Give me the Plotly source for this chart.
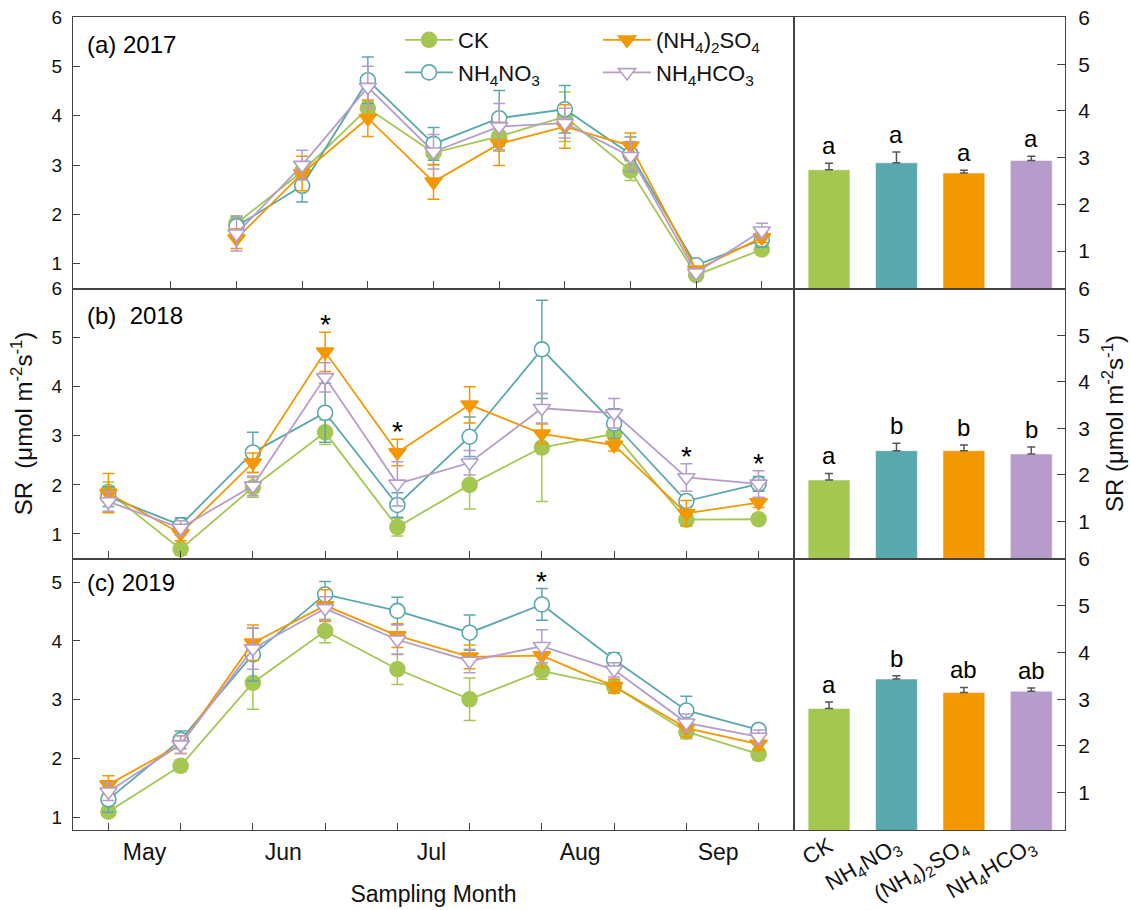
import plotly.graph_objects as go

# ---------------- data ----------------
treatments = ["CK", "NH<sub>4</sub>NO<sub>3</sub>", "(NH<sub>4</sub>)<sub>2</sub>SO<sub>4</sub>", "NH<sub>4</sub>HCO<sub>3</sub>"]
colors = ["#A4C752", "#5BA8AC", "#F39800", "#B69CCB"]
symbols = ["circle", "circle", "triangle-down", "triangle-down"]
fills = ["#A4C752", "white", "#F39800", "white"]

month_labels = ["May", "Jun", "Jul", "Aug", "Sep"]
month_pos = [0.5, 2.42, 4.47, 6.53, 8.44]
sample_ticks = list(range(10))

x_2017 = [1, 2, 3, 4, 5, 6, 7, 8, 9]
ck_2017 = [1.82, 2.87, 4.15, 3.25, 3.58, 3.98, 2.89, 0.77, 1.29]
no3_2017 = [1.76, 2.58, 4.72, 3.43, 3.95, 4.13, 3.22, 0.97, 1.49]
so4_2017 = [1.51, 2.83, 3.95, 2.66, 3.43, 3.78, 3.39, 0.88, 1.53]
hco3_2017 = [1.61, 3.00, 4.58, 3.27, 3.78, 3.85, 3.18, 0.82, 1.67]
ck_2017_se = [0.15, 0.20, 0.15, 0.25, 0.30, 0.50, 0.20, 0.06, 0.06]
no3_2017_se = [0.20, 0.33, 0.47, 0.33, 0.56, 0.48, 0.35, 0.06, 0.15]
so4_2017_se = [0.20, 0.35, 0.37, 0.35, 0.44, 0.44, 0.26, 0.06, 0.10]
hco3_2017_se = [0.35, 0.30, 0.42, 0.35, 0.47, 0.30, 0.30, 0.08, 0.15]

x_2018 = list(range(10))
ck_2018 = [1.86, 0.69, 1.95, 3.07, 1.14, 2.00, 2.76, 3.04, 1.29, 1.30]
no3_2018 = [1.76, 1.18, 2.66, 3.47, 1.59, 2.98, 4.76, 3.25, 1.67, 2.02]
so4_2018 = [1.83, 1.01, 2.45, 4.71, 2.66, 3.63, 3.04, 2.81, 1.42, 1.64]
hco3_2018 = [1.66, 1.12, 1.98, 4.19, 2.02, 2.45, 3.56, 3.46, 2.15, 2.02]
ck_2018_se = [0.20, 0.12, 0.20, 0.25, 0.18, 0.49, 1.10, 0.20, 0.12, 0.10]
no3_2018_se = [0.20, 0.15, 0.41, 0.60, 0.25, 0.40, 1.00, 0.30, 0.12, 0.15]
so4_2018_se = [0.40, 0.15, 0.20, 0.40, 0.27, 0.37, 0.20, 0.12, 0.26, 0.10]
hco3_2018_se = [0.20, 0.15, 0.20, 0.30, 0.45, 0.25, 0.30, 0.30, 0.28, 0.27]

x_2019 = list(range(10))
ck_2019 = [1.10, 1.88, 3.29, 4.17, 3.52, 3.01, 3.49, 3.23, 2.46, 2.08]
no3_2019 = [1.31, 2.32, 3.77, 4.79, 4.51, 4.14, 4.62, 3.68, 2.82, 2.49]
so4_2019 = [1.56, 2.24, 3.97, 4.60, 4.09, 3.73, 3.75, 3.23, 2.52, 2.25]
hco3_2019 = [1.44, 2.24, 3.87, 4.55, 4.02, 3.66, 3.91, 3.51, 2.61, 2.37]
ck_2019_se = [0.08, 0.10, 0.45, 0.20, 0.26, 0.36, 0.14, 0.10, 0.12, 0.10]
no3_2019_se = [0.22, 0.15, 0.45, 0.22, 0.23, 0.30, 0.27, 0.12, 0.24, 0.08]
so4_2019_se = [0.15, 0.15, 0.30, 0.27, 0.20, 0.20, 0.20, 0.12, 0.15, 0.10]
hco3_2019_se = [0.15, 0.15, 0.35, 0.20, 0.25, 0.20, 0.28, 0.12, 0.15, 0.12]

star_2018 = [3, 4, 8, 9]
star_2019 = [6]

bar_2017 = [2.74, 2.89, 2.67, 2.94]
bar_2017_se = [0.14, 0.23, 0.06, 0.09]
bar_2018 = [1.89, 2.52, 2.52, 2.45]
bar_2018_se = [0.14, 0.16, 0.12, 0.15]
bar_2019 = [2.80, 3.43, 3.14, 3.17]
bar_2019_se = [0.14, 0.07, 0.11, 0.07]
letters_2017 = ["a", "a", "a", "a"]
letters_2018 = ["a", "b", "b", "b"]
letters_2019 = ["a", "b", "ab", "ab"]

panel_labels = ["(a) 2017", "(b)  2018", "(c) 2019"]

years = [
    (x_2017, [ck_2017, no3_2017, so4_2017, hco3_2017], [ck_2017_se, no3_2017_se, so4_2017_se, hco3_2017_se], []),
    (x_2018, [ck_2018, no3_2018, so4_2018, hco3_2018], [ck_2018_se, no3_2018_se, so4_2018_se, hco3_2018_se], star_2018),
    (x_2019, [ck_2019, no3_2019, so4_2019, hco3_2019], [ck_2019_se, no3_2019_se, so4_2019_se, hco3_2019_se], star_2019),
]
bars = [(bar_2017, bar_2017_se, letters_2017), (bar_2018, bar_2018_se, letters_2018), (bar_2019, bar_2019_se, letters_2019)]

# ---------------- figure ----------------
FONT = "Arial, Liberation Sans, sans-serif"
AX = "#444444"
fig = go.Figure()
annotations = []

for p, (xs, series, errs, stars) in enumerate(years):
    xa = "x" if p == 0 else f"x{p+1}"
    ya = "y" if p == 0 else f"y{p+1}"
    for i in range(4):
        fig.add_trace(go.Scatter(
            x=xs, y=series[i], xaxis=xa, yaxis=ya, mode="lines+markers",
            name=treatments[i], showlegend=(p == 0),
            legend="legend" if i < 2 else "legend2", legendgroup=f"g{i}",
            line=dict(color=colors[i], width=1.8),
            marker=dict(symbol=symbols[i], size=15, color=fills[i], line=dict(color=colors[i], width=1.6)),
            error_y=dict(type="data", array=errs[i], color=colors[i], thickness=1.5, width=6),
        ))
    for s in stars:
        top = max(series[i][s] + errs[i][s] for i in range(4))
        annotations.append(dict(x=s, y=top, xref=xa, yref=ya, text="*", showarrow=False,
                                yanchor="bottom", yshift=-10, font=dict(size=28, color="black", family=FONT)))
    annotations.append(dict(x=0.016, y=[0.898, 0.9, 0.912][p], xref=f"{xa} domain", yref=f"{ya} domain",
                            text=panel_labels[p], showarrow=False, xanchor="left", yanchor="middle",
                            font=dict(size=24, color="black", family=FONT)))

for p, (vals, se, letters) in enumerate(bars):
    xa = f"x{p+4}"
    ya = f"y{p+4}"
    fig.add_trace(go.Bar(
        x=[0, 1, 2, 3], y=vals, xaxis=xa, yaxis=ya, width=0.62, showlegend=False,
        marker=dict(color=colors, line=dict(color="white", width=0.5)),
        error_y=dict(type="data", array=se, arrayminus=[0, 0, 0, 0], color="#555555", thickness=1.5, width=4),
    ))
    for k in range(4):
        annotations.append(dict(x=k, y=vals[k] + se[k], xref=xa, yref=ya, text=letters[k], showarrow=False,
                                yanchor="bottom", yshift=2, font=dict(size=24, color="black", family=FONT)))

ML, MR, MT, MB = 73, 66, 17, 80
PW = 1131 - ML - MR
PH = 910 - MT - MB
split = (794 - ML) / PW
def yd(top_px, bot_px):
    return [(910 - MB - bot_px) / PH, (910 - MB - top_px) / PH]
doms = [yd(MT, 288.5), yd(288.5, 558.5), yd(558.5, 910 - MB)]
yranges = [[0.5, 6], [0.5, 6], [0.79, 5.4]]
ytickv = [[1, 2, 3, 4, 5, 6], [1, 2, 3, 4, 5, 6], [1, 2, 3, 4, 5]]
xranges = [[-1.49, 9.49], [-0.49, 9.49], [-0.49, 9.49]]

lt_font = dict(size=19, color="#111", family=FONT)
rt_font = dict(size=21, color="#111", family=FONT)
legfont = dict(size=22, family=FONT, color="#111")
leg_top = (910 - MB - 19) / PH
layout = dict(
    width=1131, height=910, paper_bgcolor="white", plot_bgcolor="white",
    margin=dict(l=ML, r=MR, t=MT, b=MB, autoexpand=False), font=dict(family=FONT, color="#111"),
    annotations=annotations,
    legend=dict(x=(400 - ML) / PW, y=leg_top, xanchor="left", yanchor="top",
                bgcolor="rgba(0,0,0,0)", font=legfont, itemwidth=48, tracegroupgap=1, traceorder="grouped"),
    legend2=dict(x=(598 - ML) / PW, y=leg_top, xanchor="left", yanchor="top",
                 bgcolor="rgba(0,0,0,0)", font=legfont, itemwidth=48, tracegroupgap=1, traceorder="grouped"),
)

for p in range(3):
    xk = "xaxis" if p == 0 else f"xaxis{p+1}"
    yk = "yaxis" if p == 0 else f"yaxis{p+1}"
    ya = "y" if p == 0 else f"y{p+1}"
    xa = "x" if p == 0 else f"x{p+1}"
    xax = dict(domain=[0, split], anchor=ya, range=xranges[p], showline=True, linecolor=AX, linewidth=1.2,
               mirror=True, showgrid=False, zeroline=False, automargin=False)
    if p < 2:
        xax.update(tickvals=sample_ticks, ticks="inside", ticklen=7, tickcolor=AX, tickwidth=1.2, showticklabels=False)
    else:
        xax.update(tickvals=month_pos, ticktext=month_labels, ticks="", ticklabelstandoff=1,
                   tickfont=dict(size=23, color="#111", family=FONT),
                   minor=dict(tickvals=sample_ticks, ticks="inside", ticklen=7, tickcolor=AX, tickwidth=1.2),
                   title=dict(text="Sampling Month", font=dict(size=23, color="#111", family=FONT), standoff=22))
    yax = dict(domain=doms[p], anchor=xa, range=yranges[p], tickvals=ytickv[p], ticks="inside", ticklen=7,
               tickcolor=AX, tickwidth=1.2, showline=True, linecolor=AX, linewidth=1.2, mirror=True,
               showgrid=False, zeroline=False, tickfont=lt_font, ticklabelstandoff=6, automargin=False)
    if p == 1:
        yax["title"] = dict(text="SR  (\u03bcmol m<sup>-2</sup>s<sup>-1</sup>)", font=dict(size=24, color="#111", family=FONT), standoff=12)
    layout[xk] = xax
    layout[yk] = yax

for p in range(3):
    xk = f"xaxis{p+4}"
    yk = f"yaxis{p+4}"
    xax = dict(domain=[split, 1], anchor=f"y{p+4}", range=[-0.52, 3.5], showline=True, linecolor=AX, linewidth=1.2,
               mirror=True, showgrid=False, zeroline=False, ticks="", automargin=False)
    if p == 2:
        xax.update(tickvals=[0, 1, 2, 3], ticktext=treatments, tickangle=-30, showticklabels=True,
                   tickfont=dict(size=22, color="#111", family=FONT), ticklabelstandoff=-6)
    else:
        xax.update(showticklabels=False)
    yax = dict(domain=doms[p], anchor=f"x{p+4}", side="right", range=[0.2, 6.01], tickvals=[1, 2, 3, 4, 5, 6],
               ticks="inside", ticklen=8, tickcolor=AX, tickwidth=1.2, showline=True, linecolor=AX,
               linewidth=1.2, mirror=True, showgrid=False, zeroline=False, tickfont=rt_font, ticklabelstandoff=8,
               automargin=False)
    if p == 1:
        yax["title"] = dict(text="SR (\u03bcmol m<sup>-2</sup>s<sup>-1</sup>)", font=dict(size=24, color="#111", family=FONT), standoff=16)
    layout[xk] = xax
    layout[yk] = yax

fig.update_layout(**layout)
fig.write_html("out.html", config={"displayModeBar": False}, post_script="document.body.style.margin='0px';")
